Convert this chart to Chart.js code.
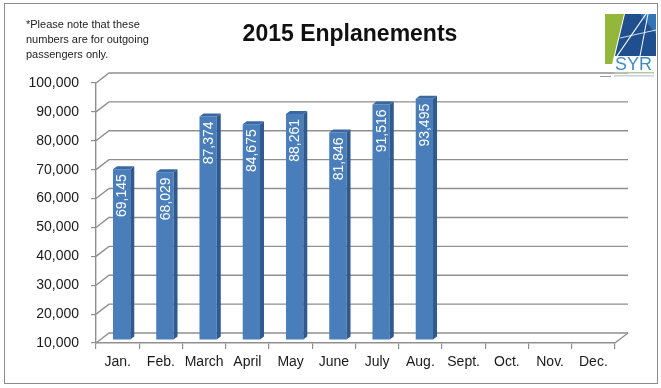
<!DOCTYPE html>
<html>
<head>
<meta charset="utf-8">
<script src="https://cdn.jsdelivr.net/npm/chart.js@4/dist/chart.umd.min.js"></script>
<style>
  html, body { margin: 0; padding: 0; background: #fff; }
  #wrap { position: relative; width: 661px; height: 388px; overflow: hidden; }
  #frame { position: absolute; left: 4px; top: 3px; width: 652px; height: 379px; border: 1px solid #8c8c8c; }
  canvas { position: absolute; left: 0; top: 0; }
  .title { position: absolute; left: 150px; top: 22px; width: 400px; text-align: center;
           font: bold 23px/23px 'Liberation Sans', Arial, sans-serif; color: #111; }
  .note { position: absolute; left: 26px; top: 17px; font: 11px/15px 'Liberation Sans', Arial, sans-serif; color: #222; }
  svg { position: absolute; left: 0; top: 0; }
</style>
</head>
<body>
<div id="wrap">
  <div id="frame"></div>
  <canvas id="enplanementsChart" width="661" height="388"></canvas>
  <div class="title">2015 Enplanements</div>
  <div class="note">*Please note that these<br>numbers are for outgoing<br>passengers only.</div>
  <svg width="661" height="388">
    <polygon points="605,14 624,14 612,64 605,64" fill="#93b73b"/>
    <polygon points="625,14 656,14 656,56 615,56" fill="#1f4f8c"/>
    <polygon points="640,14 656,14 656,34" fill="#3474b4"/>
    <line x1="617" y1="56" x2="646" y2="14" stroke="#fff" stroke-width="1.2"/>
    <line x1="640" y1="56" x2="648" y2="14" stroke="#fff" stroke-width="1"/>
    <line x1="620" y1="38" x2="656" y2="30" stroke="#fff" stroke-width="0.8"/>
    <text x="615" y="70" font-family="Liberation Sans, Arial" font-size="18" fill="#3d8dc4">SYR</text>
    <rect x="614" y="72" width="40" height="1.5" fill="#b9c7a4"/>
    <rect x="614" y="75" width="40" height="1.5" fill="#c5cfd6"/>
    <rect x="600" y="76" width="11" height="1" fill="#9a9a9a"/>
  </svg>
</div>
<script>
// chart data
const months = ['Jan.', 'Feb.', 'March', 'April', 'May', 'June', 'July', 'Aug.', 'Sept.', 'Oct.', 'Nov.', 'Dec.'];
const enplanements = [69145, 68029, 87374, 84675, 88261, 81846, 91516, 93495, null, null, null, null];
const yTicks = [10000, 20000, 30000, 40000, 50000, 60000, 70000, 80000, 90000, 100000];

const depth = { dx: 13, dy: -10 };     // wall offset
const barShift = { dx: 4, dy: -3 };    // bars sit inside the box
const barDepth = { dx: 4, dy: -3 };

Chart.defaults.font.family = "'Liberation Sans', Arial, sans-serif";
Chart.defaults.font.size = 14;
Chart.defaults.color = '#1a1a1a';

// back wall grid + 3d bar faces + value labels
const box3d = {
    id: 'box3d',
    beforeDatasetsDraw(chart) {
        const ctx = chart.ctx;
        const area = chart.chartArea;
        const y = chart.scales.y;
        ctx.save();
        ctx.strokeStyle = '#8f8f8f';
        ctx.lineWidth = 1.4;
        yTicks.forEach(v => {
            const py = y.getPixelForValue(v);
            ctx.beginPath();
            ctx.moveTo(area.left, py);
            ctx.lineTo(area.left + depth.dx, py + depth.dy);
            ctx.lineTo(area.right + depth.dx, py + depth.dy);
            ctx.stroke();
        });
        ctx.beginPath();
        ctx.moveTo(area.right, area.bottom);
        ctx.lineTo(area.right + depth.dx, area.bottom + depth.dy);
        ctx.stroke();
        ctx.restore();

        ctx.save();
        ctx.translate(barShift.dx, barShift.dy);
    },
    afterDatasetsDraw(chart) {
        const ctx = chart.ctx;
        const meta = chart.getDatasetMeta(0);
        meta.data.forEach((bar, i) => {
            const v = enplanements[i];
            if (v == null) return;
            const p = bar.getProps(['x', 'y', 'base', 'width'], true);
            const l = p.x - p.width / 2, r = p.x + p.width / 2;
            // side
            ctx.fillStyle = '#2f5a8f';
            ctx.beginPath();
            ctx.moveTo(r, p.y);
            ctx.lineTo(r + barDepth.dx, p.y + barDepth.dy);
            ctx.lineTo(r + barDepth.dx, p.base + barDepth.dy);
            ctx.lineTo(r, p.base);
            ctx.closePath();
            ctx.fill();
            // top
            ctx.fillStyle = '#3a68a3';
            ctx.beginPath();
            ctx.moveTo(l, p.y);
            ctx.lineTo(l + barDepth.dx, p.y + barDepth.dy);
            ctx.lineTo(r + barDepth.dx, p.y + barDepth.dy);
            ctx.lineTo(r, p.y);
            ctx.closePath();
            ctx.fill();
            // value
            ctx.save();
            ctx.translate(p.x, p.y + 5);
            ctx.rotate(-Math.PI / 2);
            ctx.fillStyle = '#ffffff';
            ctx.font = "14px 'Liberation Sans', Arial, sans-serif";
            ctx.textAlign = 'right';
            ctx.textBaseline = 'middle';
            ctx.fillText(v.toLocaleString('en-US'), 0, 1);
            ctx.restore();
        });
        ctx.restore();
    }
};

const ctx = document.getElementById('enplanementsChart').getContext('2d');
new Chart(ctx, {
    type: 'bar',
    data: {
        labels: months,
        datasets: [{
            data: enplanements,
            base: 10000,
            backgroundColor: '#4a7ebb',
            borderWidth: 0,
            barPercentage: 0.4,
            categoryPercentage: 1.0,
            clip: false
        }]
    },
    options: {
        responsive: false,
        animation: false,
        layout: { padding: { left: 4, top: 83, right: 46, bottom: 15 } },
        plugins: {
            legend: { display: false },
            tooltip: { enabled: false }
        },
        scales: {
            y: {
                min: 10000,
                max: 100000,
                afterFit(scale) { scale.width = 92; },
                afterBuildTicks(scale) { scale.ticks = yTicks.map(v => ({ value: v })); },
                ticks: {
                    padding: 12,
                    callback: v => v.toLocaleString('en-US')
                },
                grid: { drawOnChartArea: false, tickLength: 5, color: '#8f8f8f', lineWidth: 1.2 },
                border: { display: true, color: '#8f8f8f', width: 1.4 }
            },
            x: {
                afterFit(scale) { scale.height = 30; },
                ticks: { padding: 5, maxRotation: 0, autoSkip: false },
                grid: { drawOnChartArea: false, offset: true, tickLength: 6, color: '#8f8f8f', lineWidth: 1.2 },
                border: { display: true, color: '#8f8f8f', width: 1.4 }
            }
        }
    },
    plugins: [box3d]
});
</script>
</body>
</html>
